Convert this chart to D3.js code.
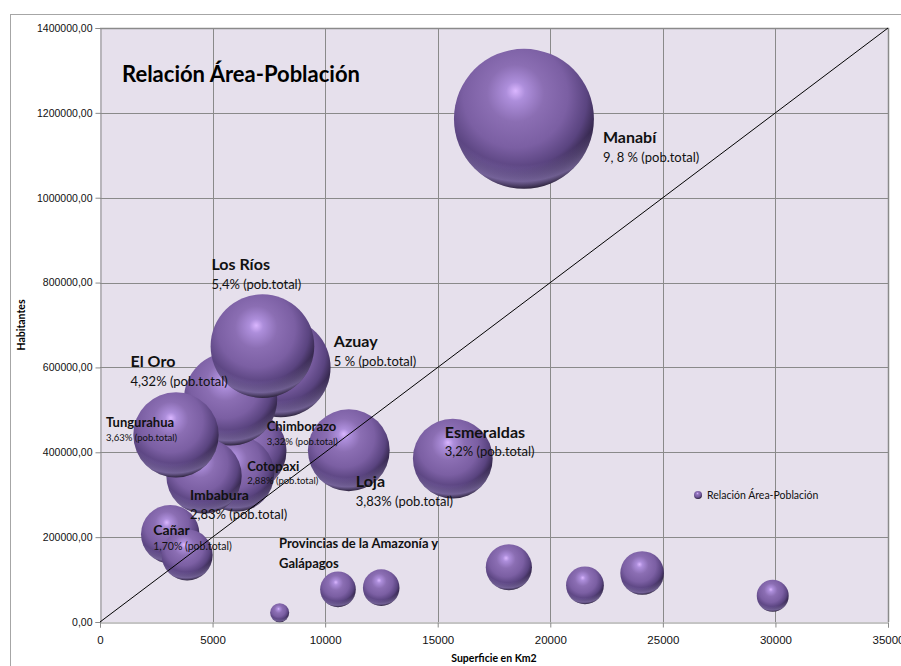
<!DOCTYPE html>
<html>
<head>
<meta charset="utf-8">
<script src="https://cdn.jsdelivr.net/npm/d3@7"></script>
<style>
  body { margin: 0; background: #fff; }
  svg { display: block; font-family: Lato, "Open Sans", sans-serif; }
</style>
</head>
<body>
<div id="chart"></div>
<script>
// datos por provincia, en el orden en que se dibujan
const provincias = ["Azuay", "Chimborazo", "Cotopaxi", "El Oro", "Esmeraldas", "Galápagos", "Imbabura", "Loja",
  "Los Ríos", "Manabí", "Morona Santiago", "Napo", "Orellana", "Pastaza", "Sucumbíos", "Tungurahua",
  "Zamora Chinchipe", "Cañar", "Bolívar"];
const superficie = [8030, 6470, 6050, 5800, 15670, 7980, 4620, 11050, 7215, 18830, 24080, 12490, 21540, 29880,
  18160, 3375, 10570, 3120, 3870];
const habitantes = [600000, 403632, 349540, 525763, 385223, 22000, 344044, 404835, 650178, 1186025, 115412, 81000,
  86493, 61779, 128995, 441034, 77000, 206981, 158000];
const porcentaje = ["5 %", "3,32%", "2,88%", "4,32%", "3,2%", "", "2,83%", "3,83%", "5,4%", "9, 8 %", "", "", "",
  "", "", "3,63%", "", "1,70%", ""];

const xTicks = [0, 5000, 10000, 15000, 20000, 25000, 30000, 35000];
const yTicks = [0, 200000, 400000, 600000, 800000, 1000000, 1200000, 1400000];

// etiquetas: desplazamiento respecto al centro de la burbuja, tamaños de letra
const etiquetas = {
  "Manabí":     { dx: 79,  dy: 24,  fs: 16, fs2: 13 },
  "Los Ríos":   { dx: -51, dy: -76, fs: 16, fs2: 13 },
  "Azuay":      { dx: 53,  dy: -20, fs: 16, fs2: 13 },
  "El Oro":     { dx: -100, dy: -32, fs: 16, fs2: 13 },
  "Tungurahua": { dx: -70, dy: -8,  fs: 13, fs2: 9.5 },
  "Chimborazo": { dx: 21,  dy: -20, fs: 13, fs2: 9.5 },
  "Cotopaxi":   { dx: 11,  dy: -3,  fs: 13, fs2: 9.5 },
  "Imbabura":   { dx: -14, dy: 24,  fs: 14, fs2: 13 },
  "Loja":       { dx: 7,   dy: 37,  fs: 16, fs2: 13 },
  "Cañar":      { dx: -17, dy: 1,   fs: 14, fs2: 10.5 },
  "Esmeraldas": { dx: -8,  dy: -21, fs: 16, fs2: 13 }
};

const width = 901, height = 666;
const margin = { top: 28, right: 13, bottom: 44, left: 100 };

const svg = d3.select("#chart").append("svg")
  .attr("width", width)
  .attr("height", height);

const defs = svg.append("defs");
const base = defs.append("radialGradient").attr("id", "esfera")
  .attr("cx", 0.44).attr("cy", 0.36).attr("r", 0.68).attr("fx", 0.44).attr("fy", 0.3);
[[0, "#dab6ff"], [0.1, "#ad8edb"], [0.3, "#8b6eb3"], [0.55, "#7b5fa3"], [0.75, "#5a4480"], [0.88, "#33264a"], [1, "#17111f"]]
  .forEach(s => base.append("stop").attr("offset", s[0]).attr("stop-color", s[1]));
const brillo = defs.append("radialGradient").attr("id", "borde")
  .attr("cx", 0.48).attr("cy", 0.2).attr("r", 0.9).attr("fx", 0.48).attr("fy", 0.2);
[[0, 0], [0.7, 0], [0.83, 0.5], [0.9, 0]]
  .forEach(s => brillo.append("stop").attr("offset", s[0]).attr("stop-color", "#b29ce2").attr("stop-opacity", s[1]));

// marco exterior del gráfico
svg.append("rect")
  .attr("x", 10.5).attr("y", 14.5)
  .attr("width", 1000).attr("height", 1000)
  .attr("fill", "none").attr("stroke", "#a6a6a6");

const x = d3.scaleLinear().domain([0, 35000]).range([margin.left, width - margin.right]);
const y = d3.scaleLinear().domain([0, 1400000]).range([height - margin.bottom, margin.top]);
const r = d3.scaleSqrt().domain([0, d3.max(habitantes)]).range([0, 70]);

svg.append("rect")
  .attr("x", x(0)).attr("y", y(1400000))
  .attr("width", x(35000) - x(0)).attr("height", y(0) - y(1400000))
  .attr("fill", "#e6e0ec");

svg.append("g").selectAll("line").data(yTicks.slice(1)).join("line")
  .attr("x1", x(0)).attr("x2", x(35000))
  .attr("y1", d => Math.round(y(d)) + 0.5).attr("y2", d => Math.round(y(d)) + 0.5)
  .attr("stroke", "#8a8a8a");
svg.append("g").selectAll("line").data(xTicks.slice(1)).join("line")
  .attr("y1", y(0)).attr("y2", y(1400000))
  .attr("x1", d => Math.round(x(d)) + 0.5).attr("x2", d => Math.round(x(d)) + 0.5)
  .attr("stroke", "#8a8a8a");

const es = d3.formatLocale({ decimal: ",", thousands: "", grouping: [3], currency: ["", ""] });

const xAxis = g => g
  .attr("transform", `translate(0,${Math.round(y(0)) + 0.5})`)
  .call(d3.axisBottom(x).tickValues(xTicks).tickFormat(d3.format("d")).tickSize(5).tickPadding(8))
  .call(g => g.selectAll("line, path").attr("stroke", "#8a8a8a"))
  .call(g => g.selectAll("text").attr("font-size", 11.5).attr("fill", "#111"));

const yAxis = g => g
  .attr("transform", `translate(${Math.round(x(0)) + 0.5},0)`)
  .call(d3.axisLeft(y).tickValues(yTicks).tickFormat(es.format(".2f")).tickSize(5).tickPadding(3))
  .call(g => g.selectAll("line, path").attr("stroke", "#8a8a8a"))
  .call(g => g.selectAll("text").attr("font-size", 10.5).attr("fill", "#111"));

svg.append("g").call(xAxis);
svg.append("g").call(yAxis);

// borde derecho y superior del área de trazado
svg.append("path")
  .attr("d", `M${x(0)},${y(1400000) + 0.5}H${x(35000) + 0.5}V${y(0)}`)
  .attr("fill", "none").attr("stroke", "#8a8a8a").attr("stroke-width", 1.5);

const data = provincias.map((p, i) => ({ p, sx: superficie[i], hab: habitantes[i], pct: porcentaje[i] }));

const burbujas = svg.append("g").selectAll("g").data(data).join("g")
  .attr("transform", d => `translate(${x(d.sx)},${y(d.hab)})`);
burbujas.append("circle").attr("r", d => r(d.hab)).attr("fill", "url(#esfera)");
burbujas.append("circle").attr("r", d => r(d.hab)).attr("fill", "url(#borde)");

// línea de referencia
svg.append("line")
  .attr("x1", x(0)).attr("y1", y(0))
  .attr("x2", x(35000)).attr("y2", y(1400000))
  .attr("stroke", "#000").attr("stroke-width", 1);

const lab = svg.append("g").attr("fill", "#111");
data.filter(d => etiquetas[d.p]).forEach(d => {
  const e = etiquetas[d.p];
  const tx = x(d.sx) + e.dx, ty = y(d.hab) + e.dy;
  lab.append("text").attr("x", tx).attr("y", ty)
    .attr("font-size", e.fs).attr("font-weight", "bold").text(d.p);
  lab.append("text").attr("x", tx).attr("y", ty + e.fs2 * 1.45)
    .attr("font-size", e.fs2).text(`${d.pct} (pob.total)`);
});

lab.append("text").attr("x", x(7950)).attr("y", y(173700))
  .attr("font-size", 13).attr("font-weight", "bold").text("Provincias de la Amazonía y");
lab.append("text").attr("x", x(7950)).attr("y", y(173700) + 20)
  .attr("font-size", 13).attr("font-weight", "bold").text("Galápagos");

// título
svg.append("text").attr("x", 122).attr("y", 82)
  .attr("font-size", 22).attr("font-weight", "bold").attr("fill", "#000")
  .text("Relación Área-Población");

// leyenda
const ley = svg.append("g").attr("transform", "translate(698,495)");
ley.append("circle").attr("r", 4).attr("fill", "url(#esfera)");
ley.append("text").attr("x", 9).attr("y", 4).attr("font-size", 10.5).attr("fill", "#111")
  .text("Relación Área-Población");

// títulos de los ejes
svg.append("text")
  .attr("x", (x(0) + x(35000)) / 2).attr("y", 662)
  .attr("text-anchor", "middle").attr("font-size", 10.5).attr("font-weight", "bold")
  .text("Superficie en Km2");
svg.append("text")
  .attr("transform", `translate(25,${(y(0) + y(1400000)) / 2}) rotate(-90)`)
  .attr("text-anchor", "middle").attr("font-size", 10.5).attr("font-weight", "bold")
  .text("Habitantes");
</script>
</body>
</html>
